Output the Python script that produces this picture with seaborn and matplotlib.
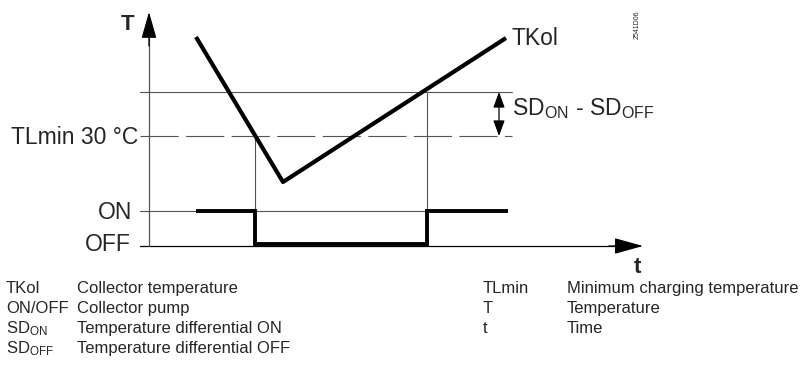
import matplotlib
matplotlib.use("Agg")
import matplotlib.pyplot as plt
import seaborn as sns
import pandas as pd

sns.set_style("white")
plt.rcParams["font.family"] = ["Liberation Sans", "DejaVu Sans"]
plt.rcParams["mathtext.fontset"] = "custom"
plt.rcParams["mathtext.rm"] = "Liberation Sans"
plt.rcParams["mathtext.it"] = "Liberation Sans"
plt.rcParams["mathtext.bf"] = "Liberation Sans:bold"

# ---- data (diagram units: time -> x, temperature -> y) ----
tkol_time = [47, 134, 357]
tkol_temp = [209, 64, 208]

pump_time = [47, 106, 106, 278, 278, 359]
pump_state = [35, 35, 2, 2, 35, 35]

level_on_threshold = 154   # TLmin + SD_ON
level_tlmin = 110          # TLmin 30 °C
level_on = 35
level_off = 0
t_switch_off = 106
t_switch_on = 278

legend_left_keys = ["TKol", "ON/OFF", r"SD$_{\mathrm{ON}}$", r"SD$_{\mathrm{OFF}}$"]
legend_left_vals = ["Collector temperature", "Collector pump",
                    "Temperature differential ON", "Temperature differential OFF"]
legend_right_keys = ["TLmin", "T", "t"]
legend_right_vals = ["Minimum charging temperature", "Temperature", "Time"]

# ---- figure ----
fig = plt.figure(figsize=(8.02, 3.85), dpi=100)
ax = fig.add_axes([0, 0, 1, 1])

thin = dict(color="#555555", lw=0.8)
# horizontal reference lines
ax.plot([-9, 363], [level_on_threshold] * 2, **thin)
lw_d = 0.8
ax.plot([-9, 363], [level_tlmin] * 2, color="#555555", lw=lw_d,
        linestyle=(0, (27.5 / lw_d, 5.3 / lw_d)))
ax.plot([-9, t_switch_on], [level_on] * 2, **thin)
# vertical switch lines
ax.plot([t_switch_off] * 2, [level_off, level_tlmin], **thin)
ax.plot([t_switch_on] * 2, [level_off, level_on_threshold], **thin)

# axes arrows
ax.plot([-9, 470], [0, 0], color="black", lw=0.9)
ax.annotate("", xy=(494, 0), xytext=(460, 0),
            arrowprops=dict(arrowstyle="-|>,head_length=1.8,head_width=0.5",
                            color="black", lw=0.9, shrinkA=0, shrinkB=0,
                            mutation_scale=10))
ax.plot([0, 0], [0, 215], color="#555555", lw=0.9)
ax.annotate("", xy=(0, 234), xytext=(0, 200),
            arrowprops=dict(arrowstyle="-|>,head_length=1.65,head_width=0.47",
                            color="black", lw=0.9, shrinkA=0, shrinkB=0,
                            mutation_scale=10))

# SD arrow
ax.annotate("", xy=(350, level_on_threshold), xytext=(350, level_tlmin),
            arrowprops=dict(arrowstyle="<|-|>,head_length=0.95,head_width=0.35",
                            color="black", lw=0.9, shrinkA=0, shrinkB=0,
                            mutation_scale=10))

# data lines via seaborn
df_t = pd.DataFrame({"time": tkol_time, "temp": tkol_temp})
sns.lineplot(data=df_t, x="time", y="temp", ax=ax, color="black", lw=3.0,
             estimator=None, sort=False, solid_capstyle="butt")
df_p = pd.DataFrame({"time": pump_time, "state": pump_state})
sns.lineplot(data=df_p, x="time", y="state", ax=ax, color="black", lw=2.8,
             estimator=None, sort=False, solid_joinstyle="miter",
             solid_capstyle="butt")
ax.set_xlim(-149, 653)
ax.set_ylim(-139, 246)
ax.axis("off")

# labels in diagram
fs = 16.5
ax.text(-21, 216, "T", fontsize=16, fontweight="bold", ha="center", va="baseline")
ax.text(-11, level_tlmin - 8, "TLmin 30 °C", fontsize=fs, ha="right", va="baseline")
ax.text(-17, level_on - 8, "ON", fontsize=fs, ha="right", va="baseline")
ax.text(-18, level_off - 5, "OFF", fontsize=fs, ha="right", va="baseline")
ax.text(363, 201, "TKol", fontsize=fs, ha="left", va="baseline")
ax.text(363, 131, r"SD$_{\mathrm{ON}}$ - SD$_{\mathrm{OFF}}$", fontsize=fs,
        ha="left", va="baseline")
ax.text(488, -27, "t", fontsize=16, fontweight="bold", ha="center", va="baseline")
ax.text(488, 221, "2541D06", fontsize=5, rotation=90, ha="center", va="center")

# legend
lfs = 12
rows_y = [-47, -67, -87, -107]
for k, v, y in zip(legend_left_keys, legend_left_vals, rows_y):
    ax.text(-143, y, k, fontsize=lfs, ha="left", va="baseline")
    ax.text(-72, y, v, fontsize=lfs, ha="left", va="baseline")
for k, v, y in zip(legend_right_keys, legend_right_vals, rows_y):
    ax.text(334, y, k, fontsize=lfs, ha="left", va="baseline")
    ax.text(418, y, v, fontsize=lfs, ha="left", va="baseline")

fig.savefig("out.png", dpi=100)
